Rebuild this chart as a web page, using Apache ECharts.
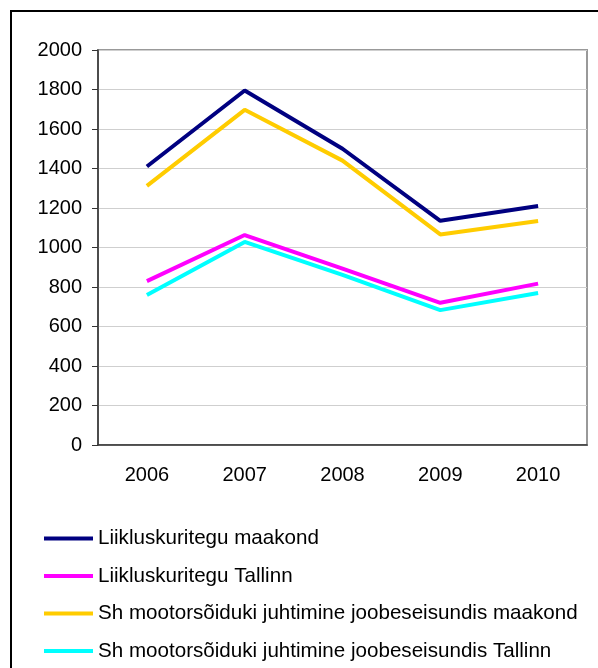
<!DOCTYPE html>
<html>
<head>
<meta charset="utf-8">
<script src="https://cdn.jsdelivr.net/npm/echarts@6/dist/echarts.min.js"></script>
<style>
  html, body { margin: 0; padding: 0; background: #fff; }
  #main { width: 598px; height: 668px; }
</style>
</head>
<body>
<div id="main"></div>
<script>
var years = ['2006', '2007', '2008', '2009', '2010'];
var liiklusMaakond = [1410, 1795, 1500, 1135, 1210];
var liiklusTallinn = [830, 1063, 893, 720, 817];
var joobesMaakond = [1312, 1697, 1440, 1066, 1134];
var joobesTallinn = [760, 1028, 861, 683, 770];
var yTicks = [0, 200, 400, 600, 800, 1000, 1200, 1400, 1600, 1800, 2000];

var names = [
    'Liikluskuritegu maakond',
    'Liikluskuritegu Tallinn',
    'Sh mootorsõiduki juhtimine joobeseisundis maakond',
    'Sh mootorsõiduki juhtimine joobeseisundis Tallinn'
];
var colors = ['#000080', '#ff00ff', '#ffcc00', '#00ffff'];
var values = [liiklusMaakond, liiklusTallinn, joobesMaakond, joobesTallinn];

var myChart = echarts.init(document.getElementById('main'));

var font = 'Liberation Sans, Arial, sans-serif';

var option = {
    animation: false,
    color: colors,
    textStyle: { fontFamily: font },
    graphic: [{
        type: 'rect',
        shape: { x: 11, y: 11, width: 620, height: 700 },
        style: { fill: 'none', stroke: '#000', lineWidth: 2 },
        silent: true
    }],
    grid: {
        left: 98,
        right: 11,
        top: 50,
        bottom: 223,
        show: true,
        borderColor: '#999',
        borderWidth: 2
    },
    legend: {
        orient: 'vertical',
        left: 39,
        top: 523,
        icon: 'rect',
        itemWidth: 49,
        itemHeight: 4,
        itemGap: 16.5,
        textStyle: { fontSize: 20.6, color: '#000', fontFamily: font },
        data: names
    },
    xAxis: {
        type: 'category',
        data: years,
        boundaryGap: true,
        axisLine: { lineStyle: { color: '#333', width: 1.5 } },
        axisTick: { length: 6, lineStyle: { color: '#333' } },
        axisLabel: { fontSize: 20, color: '#000', margin: 20, fontFamily: font },
        splitLine: { show: false }
    },
    yAxis: {
        type: 'value',
        min: yTicks[0],
        max: yTicks[yTicks.length - 1],
        interval: 200,
        axisLine: { show: true, lineStyle: { color: '#333', width: 1.5 } },
        axisTick: { show: true, length: 6, lineStyle: { color: '#333' } },
        axisLabel: {
            fontSize: 20, color: '#000', margin: 16, fontFamily: font,
            formatter: function (v) { return String(v); }
        },
        splitLine: { lineStyle: { color: '#cfcfcf', width: 1 } }
    },
    series: names.map(function (n, i) {
        return {
            name: n,
            type: 'line',
            data: values[i],
            symbol: 'none',
            lineStyle: { width: 4, color: colors[i] }
        };
    })
};

myChart.setOption(option);
</script>
</body>
</html>
